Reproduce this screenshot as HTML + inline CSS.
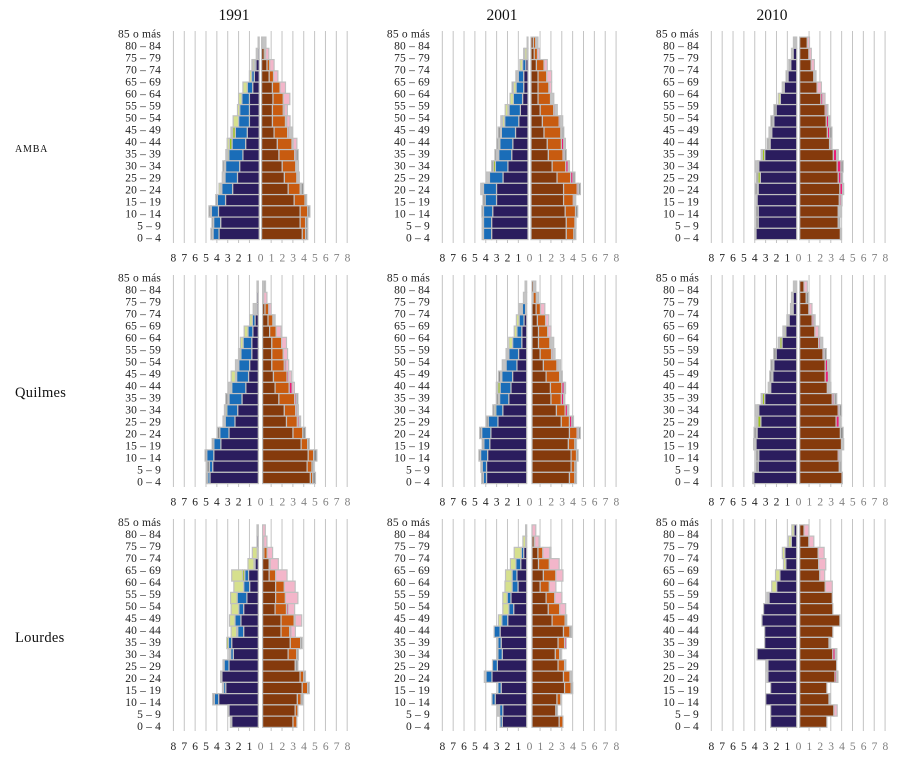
<!DOCTYPE html>
<html lang="es">
<head>
<meta charset="utf-8">
<title>Pirámides de población</title>
<style>
html,body{margin:0;padding:0;background:#fff;}
svg{display:block;font-family:"Liberation Serif",serif;}
</style>
</head>
<body>
<svg id="chart" width="919" height="779" viewBox="0 0 919 779" xmlns="http://www.w3.org/2000/svg"></svg>
<script>
const ageGroups = ["85 o más","80 – 84","75 – 79","70 – 74","65 – 69","60 – 64","55 – 59","50 – 54","45 – 49","40 – 44","35 – 39","30 – 34","25 – 29","20 – 24","15 – 19","10 – 14","5 – 9","0 – 4"];
const censusYears = ["1991","2001","2010"];
const regions = ["AMBA","Quilmes","Lourdes"];
const leftTicks = [8,7,6,5,4,3,2,1];
const rightTicks = [0,1,2,3,4,5,6,7,8];
const leftSeriesNames = ["navy","blue","lime","pale-green","light-gray","gray"];
const rightSeriesNames = ["brown","orange","magenta","pink","light-gray","gray"];

const amba1991Left = [[0,0,0,0,.1,0],[.12,0,0,0,.15,0],[.3,.12,0,.15,.1,0],[.45,.25,0,.2,0,0],[.6,.5,0,.4,0,0],[.9,.7,0,.3,0,0],[.9,.9,0,.2,0,0],[.9,1,0,.5,0,0],[1.1,1.1,.25,0,.15,0],[1.25,1.25,.25,.2,0,0],[1.5,1.3,.12,0,.15,0],[1.8,1.3,0,0,.1,.15],[2,1.15,0,0,.25,0],[2.45,1,.1,.15,0,0],[3.1,.75,0,0,0,.15],[3.75,.65,0,0,.08,.15],[3.55,.65,0,0,0,.15],[3.7,.55,0,0,.05,.15]];
const amba1991Right = [[.1,0,0,0,.3,0],[.25,.12,0,.3,0,0],[.5,.25,0,.4,0,0],[.7,.4,0,.4,0,0],[1,.7,0,.5,0,0],[1.05,.95,0,.6,0,0],[1,1,.12,.25,0,0],[1,1.2,.12,.3,0,0],[1.15,1.25,.12,0,.3,0],[1.45,1.35,.1,.35,0,0],[1.6,1.45,.12,0,0,.2],[1.9,1.25,0,0,.25,0],[2.1,1.15,.12,0,.1,0],[2.45,1.1,.1,0,0,.2],[3,1,0,0,0,.15],[3.55,.7,0,0,0,.2],[3.55,.5,0,0,0,.2],[3.75,.3,0,0,0,.2]];
const amba2001Left = [[0,0,0,0,.08,0],[.1,0,0,.2,.1,0],[.2,.3,0,.25,0,0],[.4,.5,0,0,.1,.12],[.4,.7,0,.25,0,.12],[.5,.85,0,.3,0,0],[.7,1.05,.1,.25,0,0],[.85,1.3,0,.2,.15,0],[1.15,1.3,0,0,.1,.2],[1.4,1.2,0,.12,0,.15],[1.5,1.2,0,0,.2,.15],[1.85,1.15,.2,0,0,.15],[2.3,1.25,0,0,.3,0],[2.9,1.2,.1,0,.15,0],[2.9,1.05,0,0,0,.2],[3.25,.85,0,0,0,.15],[3.35,.75,0,0,.12,0],[3.35,.75,0,0,.12,0]];
const amba2001Right = [[.22,.22,0,0,.2,0],[.3,.3,0,.2,0,0],[.5,.7,0,.3,0,0],[.65,.8,0,.45,0,0],[.65,1,0,.25,0,0],[.65,1.15,0,0,.3,0],[.85,1.25,.12,0,.2,0],[1.05,1.55,.12,0,.2,0],[1.2,1.55,0,0,.12,.15],[1.5,1.3,.22,0,.15,0],[1.6,1.35,.12,0,0,.18],[1.95,1.25,.22,0,.12,0],[2.4,1.25,.22,0,0,.18],[3,1.25,.12,0,0,.18],[3,.9,.12,0,.1,0],[3.15,.95,0,0,0,.2],[3.25,.8,0,0,.1,0],[3.25,.7,0,0,0,.18]];
const amba2010Left = [[.1,0,0,0,.1,.1],[.33,0,0,0,.15,0],[.55,0,0,0,.06,.12],[.8,0,0,0,.06,.12],[1.15,0,0,0,.08,.1],[1.5,0,0,.2,0,0],[1.9,0,0,0,0,.2],[2.1,0,.1,0,0,.18],[2.3,0,.1,0,.15,0],[2.45,0,.12,0,0,.15],[2.95,0,.22,0,.1,0],[3.5,0,.1,0,.2,0],[3.35,0,.22,0,0,.15],[3.55,0,.1,0,0,.18],[3.65,0,0,0,.1,0],[3.55,0,0,0,0,.2],[3.55,0,0,0,0,.2],[3.75,0,0,0,.1,0]];
const amba2010Right = [[.7,0,0,.2,0,0],[.85,0,0,.22,0,0],[1.05,0,0,.3,0,0],[1.3,0,0,0,.2,0],[1.6,0,0,.4,0,0],[1.95,0,.18,.2,0,0],[2.35,0,.15,0,.1,0],[2.45,0,.22,0,.1,0],[2.55,0,.22,0,0,.2],[2.75,0,.12,0,.1,0],[3.1,0,.3,0,.15,0],[3.45,0,.35,0,0,.2],[3.55,0,.25,0,0,.15],[3.7,0,.25,0,.1,0],[3.65,0,.15,0,.1,0],[3.55,0,0,0,.3,0],[3.55,0,0,0,0,.15],[3.75,0,0,0,.1,0]];

const quilmes1991Left = [[0,0,0,0,.12,0],[.12,0,0,0,0,0],[.12,.1,0,0,.25,0],[.3,.25,0,.25,0,0],[.5,.45,0,.35,0,0],[.6,.8,0,.25,0,0],[.6,1,.12,0,.1,0],[.8,1,0,0,.3,0],[.9,1.1,.1,.4,0,0],[1.15,1.3,0,.12,.2,0],[1.5,1.2,.1,0,0,.2],[1.9,1,.12,0,.1,0],[2.15,.9,0,0,.2,0],[2.7,.85,0,0,0,.22],[3.45,.65,0,0,0,.15],[4.1,.65,0,0,0,.15],[4.2,.3,0,0,0,.22],[4.45,.2,0,0,0,.15]];
const quilmes1991Right = [[0,0,0,0,.15,.12],[.1,0,0,.3,0,0],[.22,.35,0,.22,0,0],[.5,.45,0,0,.2,0],[.65,.6,0,.45,0,0],[.85,.9,0,.45,0,0],[.85,1.05,0,.4,0,0],[.85,1.15,.15,.25,0,0],[1,1.25,.15,.25,0,0],[1.15,1.3,.28,.2,0,0],[1.5,1.45,.15,0,0,.15],[2,1.05,.12,0,.12,0],[2.2,1,.15,0,.15,0],[2.8,.9,0,0,0,.25],[3.55,.6,0,0,0,.15],[4.2,.5,0,0,0,.3],[4.1,.45,0,0,0,.15],[4.4,.22,0,0,0,.25]];
const quilmes2001Left = [[0,0,0,0,.15,0],[0,0,0,0,.3,0],[.1,.3,0,0,.3,0],[.25,.45,0,.25,0,0],[.45,.45,0,.25,0,0],[.45,.85,0,.35,0,0],[.75,.9,.1,0,.15,0],[.9,1,0,0,.35,0],[1.3,1,0,0,.1,.2],[1.45,1,.2,0,.15,0],[1.65,.85,0,.12,0,.18],[2.2,.65,.12,0,0,.15],[2.65,.9,0,0,0,.18],[3.3,.85,0,0,0,.18],[3.4,.55,0,0,0,.15],[3.6,.65,0,0,0,.15],[3.7,.4,0,0,0,.12],[3.7,.3,0,0,0,.15]];
const quilmes2001Right = [[.15,0,0,0,.2,0],[.1,.3,0,0,.2,0],[.38,.4,0,.4,0,0],[.5,.75,0,.3,0,0],[.6,.85,0,.3,0,0],[.6,1.05,.1,0,.25,0],[.75,1.05,.12,0,.2,0],[1.05,1.25,.12,0,.2,0],[1.3,1.25,0,0,.12,.12],[1.7,1.05,.22,0,.12,0],[1.75,.95,.22,0,.1,0],[2.25,.8,.22,0,.12,0],[2.7,.75,.22,0,0,.15],[3.45,.7,.12,0,0,.18],[3.35,.6,0,0,0,.15],[3.6,.5,0,0,0,.15],[3.6,.35,0,0,0,.15],[3.45,.5,0,0,0,.15]];
const quilmes2010Left = [[.1,0,0,0,.1,.1],[.33,0,0,0,.15,0],[.33,0,0,.12,.12,0],[.7,0,0,0,.2,0],[1,0,.12,0,.15,0],[1.35,0,.2,0,.15,0],[1.9,0,0,0,0,.22],[2.1,0,.1,0,0,.18],[2.2,0,.1,0,0,.18],[2.4,0,.1,0,.12,0],[2.95,0,.22,0,.1,0],[3.5,0,.1,0,.2,0],[3.3,0,.28,0,.18,0],[3.65,0,.08,0,0,.2],[3.75,0,.1,0,.12,0],[3.5,0,0,0,.05,.2],[3.55,0,0,0,0,.2],[3.95,0,0,0,.1,0]];
const quilmes2010Right = [[.4,0,0,.3,0,0],[.6,0,0,0,0,.2],[.85,0,0,.28,0,0],[1.15,0,.15,0,.12,0],[1.4,0,0,.35,0,0],[1.75,0,.15,0,.22,0],[2.15,0,.12,0,0,.18],[2.35,0,.22,0,.18,0],[2.35,0,.3,0,.1,0],[2.55,0,.12,0,.2,0],[3,0,.15,0,.08,.18],[3.55,0,.12,0,0,.18],[3.35,0,.3,0,.1,0],[3.75,0,0,0,0,.25],[3.85,0,0,0,.2,0],[3.55,0,.12,0,.1,0],[3.65,0,0,0,0,.15],[3.9,0,0,0,.03,0]];

const lourdes1991Left = [[0,0,0,0,.12,0],[.12,0,0,0,0,0],[.1,0,0,.45,0,0],[.3,.1,0,.55,0,0],[.9,.35,.2,1,0,0],[.8,.55,0,.9,0,0],[1.05,.9,0,.6,0,0],[1.35,.45,0,.7,0,0],[1.6,.55,0,.5,0,0],[1.35,.55,.1,.5,0,0],[2.45,.3,.15,0,0,0],[2.3,.25,0,0,.15,0],[2.7,.45,0,0,.1,0],[3.35,0,0,0,.12,0],[3,.2,0,0,.1,0],[3.65,.4,0,0,0,.15],[2.7,.1,0,0,0,0],[2.45,0,0,0,0,.12]];
const lourdes1991Right = [[0,0,0,.25,0,0],[.1,0,0,.3,0,0],[.12,.3,0,.5,0,0],[.6,.1,0,.75,0,0],[.6,.6,0,1.05,0,0],[1.2,.8,0,1,0,0],[1.2,.9,0,1.15,0,0],[1.15,1.05,.15,.6,0,0],[1.7,1.2,.1,.6,0,0],[1.7,.8,.12,.4,0,0],[2.55,.95,0,0,0,.15],[2.35,.8,0,0,0,.15],[3,0,0,0,.05,.2],[3.45,.35,0,0,0,.15],[3.65,.5,0,0,0,.15],[3.2,.35,0,0,0,.15],[3,.25,0,0,0,0],[2.8,.35,0,0,0,0]];
const lourdes2001Left = [[0,0,0,0,.1,0],[.1,0,0,.25,0,0],[.28,.22,0,.65,0,0],[.55,.45,0,.5,0,0],[.9,.45,0,.6,0,0],[.8,.55,0,.65,0,0],[1.45,.35,0,.4,0,0],[1.2,.45,0,.55,0,0],[1.75,.55,0,.3,0,0],[2.45,.55,0,0,0,0],[2.35,.3,0,0,.1,0],[2.25,.4,0,0,.1,0],[2.7,.45,0,0,0,0],[3.2,.55,0,0,.15,0],[2.35,.3,0,0,0,0],[2.9,.3,0,0,0,0],[2.2,.3,0,0,.2,0],[2.25,.2,0,0,0,0]];
const lourdes2001Right = [[0,0,0,.35,0,0],[.2,.05,0,.4,0,0],[.55,.45,0,.65,0,.1],[.6,1,0,.9,0,0],[1.05,1.15,0,.65,0,0],[.75,.85,0,.6,0,0],[1.3,.8,0,.65,0,0],[1.5,1.05,0,.55,0,0],[1.85,1.2,0,0,0,.15],[2.9,.6,0,0,0,.15],[2.4,.6,.15,0,0,0],[2.15,.4,0,0,0,.12],[2.4,.6,0,0,0,.12],[2.9,.6,0,0,.15,0],[3,.6,0,0,0,.15],[2.3,.35,0,0,0,0],[2.2,0,0,0,0,.15],[2.5,.35,0,0,0,0]];
const lourdes2010Left = [[.25,0,0,.2,0,0],[.5,0,0,.25,0,0],[1.1,0,0,.22,0,0],[1,0,0,.22,0,0],[1.55,0,0,.4,0,0],[1.85,0,0,.45,0,0],[2.55,0,0,0,.2,0],[3.05,0,0,0,0,0],[3.2,0,0,0,0,0],[2.95,0,0,0,0,0],[2.95,0,0,0,0,0],[3.65,0,0,0,0,0],[2.65,0,0,0,.15,0],[2.65,0,.1,0,0,0],[2.4,0,0,0,0,0],[2.85,0,0,0,0,0],[2.4,0,0,0,0,0],[2.4,0,0,0,0,0]];
const lourdes2010Right = [[.4,0,0,.45,0,0],[.85,0,0,.45,0,0],[1.7,0,0,.55,0,0],[1.75,0,0,.65,0,0],[1.85,0,0,.45,0,0],[2.35,0,0,.65,0,0],[3,0,0,0,0,0],[3.05,0,0,0,0,0],[3.7,0,0,0,0,0],[3.05,0,0,0,0,0],[2.7,0,0,0,.1,0],[3.05,0,.22,0,.15,0],[3.4,0,0,0,0,0],[3.25,0,.15,0,.12,0],[2.5,0,0,0,0,0],[2.7,0,0,0,.1,0],[3.15,0,0,.3,0,0],[2.5,0,0,0,0,0]];

const leftData = [[amba1991Left,amba2001Left,amba2010Left],[quilmes1991Left,quilmes2001Left,quilmes2010Left],[lourdes1991Left,lourdes2001Left,lourdes2010Left]];
const rightData = [[amba1991Right,amba2001Right,amba2010Right],[quilmes1991Right,quilmes2001Right,quilmes2010Right],[lourdes1991Right,lourdes2001Right,lourdes2010Right]];

const leftColors = ["#2b1d5e","#1a6db8","#9fc31c","#d6e08e","#c4c4c4","#8c8c8c"];
const rightColors = ["#853a0c","#c85b10","#e91e74","#f3b6ca","#c4c4c4","#8c8c8c"];
const STROKE = "#c0c0c0";
const UNIT = 10.86;
const STEP = 11.25;
const centers = [260.3,529.2,798.2];
const firstBarCenter = [42.7,286.7,530.5];
const gridTop = [31,275,519];
const gridBottom = [243,487,731];
const labelStart = [34,278,522.3];
const tickY = [258,502,746.5];
const baseGap = [[[1.1,1.3],[1.2,1.8],[1.5,1.5]],[[2,2.3],[2.5,2.8],[1.5,1.5]],[[2,2.3],[2.5,2.8],[1.5,1.5]]];
const regionLabelY = [149,392,637];
const titleX = [234,502,772];

const svg = document.getElementById('chart');
const NS = 'http://www.w3.org/2000/svg';
function make(tag, attrs, parent){
  const el = document.createElementNS(NS, tag);
  for (const k in attrs) el.setAttribute(k, attrs[k]);
  parent.appendChild(el);
  return el;
}
function xScale(col, side, base, v){ return centers[col] + side * (base + v * UNIT); }
function tickX(col, side, v){ return centers[col] + side * v * UNIT; }
function yScale(row, i){ return firstBarCenter[row] + (i - 0.5) * STEP; }

censusYears.forEach(function(y, c){
  const t = make('text', {x:titleX[c], y:20, 'text-anchor':'middle', 'font-size':15.5, fill:'#111'}, svg);
  
  
  t.textContent = y;
});

regions.forEach(function(name, r){
  const isSmall = name === 'AMBA';
  const t = make('text', {x:15, y:regionLabelY[r] + (isSmall ? 3 : 5), 'font-size': isSmall ? 10 : 14.5, 'letter-spacing': isSmall ? 0.8 : 0.3, fill:'#111'}, svg);
  
  
  t.textContent = name;

  censusYears.forEach(function(year, c){
    const g = make('g', {}, svg);
    
    

    leftTicks.forEach(function(v){
      const x = tickX(c, -1, v);
      const l = make('line', {x1:x, x2:x, y1:gridTop[r], y2:gridBottom[r], stroke:'#c4c4c4', 'stroke-width':1}, g);
      
      
      const lt = make('text', {x:x, y:tickY[r] + 3.5, 'text-anchor':'middle', 'font-size':11.5, fill:'#222'}, g);
      
      
      lt.textContent = v;
    });
    rightTicks.forEach(function(v){
      const x = tickX(c, 1, v);
      if (v !== 0) {
        const l = make('line', {x1:x, x2:x, y1:gridTop[r], y2:gridBottom[r], stroke:'#c4c4c4', 'stroke-width':1}, g);
        
        
      }
      const rt = make('text', {x:x + 0.3, y:tickY[r] + 3.5, 'text-anchor':'middle', 'font-size':11.5, fill:'#808080'}, g);
      
      
      rt.textContent = v;
    });

    ageGroups.forEach(function(age, i){
      const a = make('text', {x:centers[c] - 99.2, y:labelStart[r] + i * 12 + 3.5, 'text-anchor':'end', 'font-size':11.5, 'letter-spacing':0.2, fill:'#222'}, g);
      
      
      a.textContent = age;

      let cum = 0;
      leftData[r][c][i].forEach(function(v, s){
        if (!v) return;
        const x0 = xScale(c, -1, baseGap[r][c][0], cum);
        const x1 = xScale(c, -1, baseGap[r][c][0], cum + v);
        const b = make('rect', {x:x1, y:yScale(r, i), width:x0 - x1, height:STEP, fill:leftColors[s], stroke:STROKE, 'stroke-width':1.2}, g);
        
        
        cum += v;
      });
      cum = 0;
      rightData[r][c][i].forEach(function(v, s){
        if (!v) return;
        const x0 = xScale(c, 1, baseGap[r][c][1], cum);
        const x1 = xScale(c, 1, baseGap[r][c][1], cum + v);
        const b = make('rect', {x:x0, y:yScale(r, i), width:x1 - x0, height:STEP, fill:rightColors[s], stroke:STROKE, 'stroke-width':1.2}, g);
        
        
        cum += v;
      });
    });
  });
});
</script>
</body>
</html>
